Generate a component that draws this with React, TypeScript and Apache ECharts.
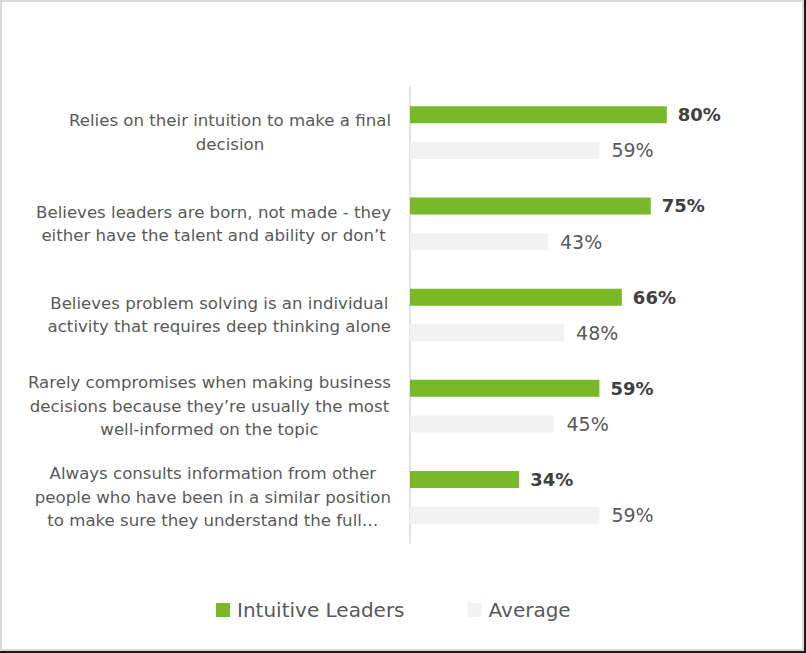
import React, { useEffect, useRef } from "react";
import * as echarts from "echarts";

const categories = [
  "Relies on their intuition to make a final\ndecision",
  "Believes leaders are born, not made - they\neither have the talent and ability or don\u2019t",
  "Believes problem solving is an individual\nactivity that requires deep thinking alone",
  "Rarely compromises when making business\ndecisions because they\u2019re usually the most\nwell-informed on the topic",
  "Always consults information from other\npeople who have been in a similar position\nto make sure they understand the full\u2026",
];
const intuitiveLeaders = [80, 75, 66, 59, 34];
const average = [59, 43, 48, 45, 59];
const seriesNames = ["Intuitive Leaders", "Average"];

const FONT = "'DejaVu Sans', 'Open Sans', sans-serif";

export default function App() {
  const ref = useRef<HTMLDivElement>(null);
  useEffect(() => {
    if (!ref.current) return;
    const chart = echarts.init(ref.current, undefined, { renderer: "svg" });
    chart.setOption({
      animation: false,
      backgroundColor: "#ffffff",
      textStyle: { fontFamily: FONT },
      grid: { left: 410, top: 87, width: 321, height: 456, containLabel: false },
      legend: {
        bottom: 28,
        left: 211,
        itemWidth: 14,
        itemHeight: 14,
        itemGap: 63,
        icon: "rect",
        textStyle: { fontSize: 20, color: "#595959", fontFamily: FONT, padding: [0, 0, 0, 2] },
        data: seriesNames,
      },
      xAxis: {
        type: "value",
        min: 0,
        max: 100,
        show: false,
      },
      yAxis: {
        type: "category",
        inverse: true,
        data: categories,
        axisTick: { show: false },
        axisLine: { show: true, lineStyle: { color: "#d9d9d9", width: 1.5 } },
        axisLabel: {
          margin: 19,
          align: "right",
          formatter: (v: string) =>
            v
              .split("\n")
              .map((l) => `{c|${l}}`)
              .join("\n"),
          rich: {
            c: {
              align: "center",
              fontSize: 16.6,
              lineHeight: 23.5,
              color: "#595959",
              fontFamily: FONT,
            },
          },
        },
      },
      series: [
        {
          name: seriesNames[0],
          type: "bar",
          data: intuitiveLeaders,
          barWidth: 17,
          barGap: "110%",
          itemStyle: { color: "#79B829" },
          label: {
            show: true,
            position: "right",
            distance: 11,
            formatter: "{c}%",
            fontSize: 18,
            fontWeight: "bold",
            color: "#404040",
            fontFamily: FONT,
          },
        },
        {
          name: seriesNames[1],
          type: "bar",
          data: average,
          barWidth: 17,
          itemStyle: { color: "#F2F2F2" },
          label: {
            show: true,
            position: "right",
            distance: 12,
            formatter: "{c}%",
            fontSize: 19,
            color: "#595959",
            fontFamily: FONT,
          },
        },
      ],
    });
    return () => chart.dispose();
  }, []);

  return (
    <div style={{ position: "absolute", left: 0, top: 0, width: 806, height: 653 }}>
      <div ref={ref} style={{ position: "absolute", left: 0, top: 0, width: 806, height: 653 }} />
      <div
        style={{
          position: "absolute",
          left: 0,
          top: 0,
          width: 806,
          height: 653,
          boxSizing: "border-box",
          borderRight: "2px solid #1a1a1a",
          borderBottom: "2px solid #1a1a1a",
          pointerEvents: "none",
        }}
      >
        <div
          style={{
            width: "100%",
            height: "100%",
            boxSizing: "border-box",
            border: "2px solid #d9d9d9",
          }}
        />
      </div>
    </div>
  );
}
